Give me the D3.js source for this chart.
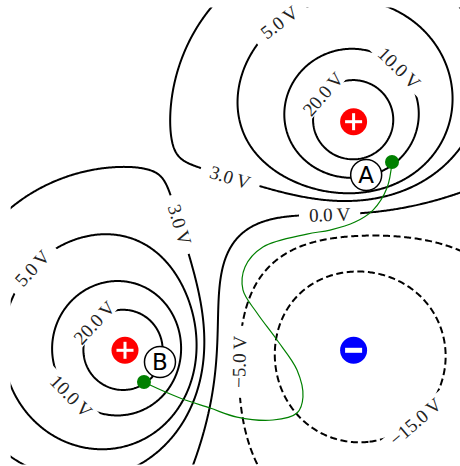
<!DOCTYPE html>
<html>
<head>
<meta charset="utf-8">
<script src="https://cdn.jsdelivr.net/npm/d3@7"></script>
<style>
body { margin: 0; background: #fff; }
svg { display: block; }
</style>
</head>
<body>
<div id="chart"></div>
<script>
const width = 460;
const height = 466;

// point charges (nC) at positions in metres
const chargeX = [1, -1, 1];
const chargeY = [1, -1, -1];
const chargeQ = [1, 1, -2];
const kC = 8.99; // V·m / nC

const levels = [-15, -5, 0, 3, 5, 10, 20];

// where each contour label sits (roughly), picked off the figure
const labelLevels = [20, 10, 5, 3, 0, 3, 5, 20, 10, -5, -15];
const labelX = [0.715, 1.415, 0.347, -0.073, 0.794, -0.501, -1.831, -1.289, -1.464, -0.011, 1.528];
const labelY = [1.260, 1.487, 1.881, 0.542, 0.210, 0.105, -0.262, -0.735, -1.391, -1.102, -1.610];

// green path from A to B
const pathX = [1.336, 1.292, 1.170, 1.012, 0.794, 0.592, 0.207, 0.050, 0.032, 0.155, 0.330, 0.505, 0.557, 0.505, 0.295, -0.020, -0.256, -0.519, -0.781, -0.834];
const pathY = [0.647, 0.420, 0.227, 0.122, 0.052, 0.017, -0.096, -0.271, -0.472, -0.674, -0.910, -1.172, -1.409, -1.549, -1.610, -1.584, -1.505, -1.417, -1.304, -1.277];

const pointNames = ["A", "B"];
const pointX = [1.336, -0.834];
const pointY = [0.647, -1.277];
const tagX = [1.110, -0.694];
const tagY = [0.534, -1.102];

const x = d3.scaleLinear().domain([-2, 2]).range([10.7, 467.9]);
const y = d3.scaleLinear().domain([-2, 2]).range([464.6, 7.4]);

function potential(px, py) {
    let v = 0;
    for (let i = 0; i < chargeQ.length; i++) {
        const r = Math.max(1e-3, Math.hypot(px - chargeX[i], py - chargeY[i]));
        v += kC * chargeQ[i] / r;
    }
    return v;
}

// sample grid a bit larger than the view so the grid border is clipped away
const g0 = -2.3, step = 0.01, n = 461;
const values = new Float64Array(n * n);
for (let j = 0; j < n; j++) {
    for (let i = 0; i < n; i++) {
        values[j * n + i] = potential(g0 + i * step, -g0 - j * step);
    }
}

const gridToPx = (c) => [x(g0 + (c[0] - 0.5) * step), y(-g0 - (c[1] - 0.5) * step)];

const contours = d3.contours().size([n, n]).thresholds(levels)(values);

const path = d3.geoPath(d3.geoTransform({
    point: function(px, py) {
        const p = gridToPx([px, py]);
        this.stream.point(p[0], p[1]);
    }
}));

const svg = d3.select("#chart").append("svg")
    .attr("width", width)
    .attr("height", height);

const defs = svg.append("defs");
defs.append("clipPath").attr("id", "plot-clip")
    .append("rect")
    .attr("x", x(-2)).attr("y", y(2))
    .attr("width", x(2) - x(-2)).attr("height", y(-2) - y(2));

const mask = defs.append("mask").attr("id", "label-gaps")
    .attr("maskUnits", "userSpaceOnUse")
    .attr("x", 0).attr("y", 0).attr("width", width).attr("height", height);
mask.append("rect").attr("width", width).attr("height", height).attr("fill", "white");

const lines = svg.append("g")
    .attr("clip-path", "url(#plot-clip)")
    .append("g")
    .attr("mask", "url(#label-gaps)");

lines.selectAll("path")
    .data(contours)
    .enter()
    .append("path")
    .attr("d", path)
    .attr("fill", "none")
    .attr("stroke", "black")
    .attr("stroke-width", 2)
    .attr("stroke-dasharray", d => d.value < 0 ? "7,3.6" : null);

// place labels on the nearest contour point, rotated along the line
const fmt = v => (v < 0 ? "\u2212" : "") + Math.abs(v).toFixed(1) + "\u2009V";
const labelLayer = svg.append("g");

labelLevels.forEach((lev, k) => {
    const c = contours.find(d => d.value === lev);
    const ax = x(labelX[k]), ay = y(labelY[k]);
    let best = null;
    c.coordinates.forEach(poly => poly.forEach(ring => {
        const pts = ring.map(gridToPx);
        pts.forEach((p, i) => {
            const dd = (p[0] - ax) ** 2 + (p[1] - ay) ** 2;
            if (!best || dd < best.dd) best = { dd, pts, i };
        });
    }));
    const m = best.pts.length - 1;
    const p = best.pts[best.i];
    const a = best.pts[(best.i - 4 + m) % m];
    const b = best.pts[(best.i + 4) % m];
    let ang = Math.atan2(b[1] - a[1], b[0] - a[0]) * 180 / Math.PI;
    if (ang > 90) ang -= 180;
    if (ang < -90) ang += 180;

    const t = labelLayer.append("text")
        .attr("transform", `translate(${p[0]},${p[1]}) rotate(${ang})`)
        .attr("text-anchor", "middle")
        .attr("dy", "0.35em")
        .attr("font-family", "Liberation Serif, serif")
        .attr("font-size", 19)
        .attr("fill", "#222")
        .text(fmt(lev));
    const w = t.node().getComputedTextLength() + 20;
    mask.append("rect")
        .attr("transform", `translate(${p[0]},${p[1]}) rotate(${ang})`)
        .attr("x", -w / 2).attr("y", -8)
        .attr("width", w).attr("height", 16)
        .attr("fill", "black");
});

// path A -> B
const line = d3.line()
    .x(i => x(pathX[i]))
    .y(i => y(pathY[i]))
    .curve(d3.curveCatmullRom);

svg.append("path")
    .attr("d", line(d3.range(pathX.length)))
    .attr("fill", "none")
    .attr("stroke", "green")
    .attr("stroke-width", 1.2);

svg.selectAll(".dot")
    .data(pointNames)
    .enter()
    .append("circle")
    .attr("class", "dot")
    .attr("cx", (d, i) => x(pointX[i]))
    .attr("cy", (d, i) => y(pointY[i]))
    .attr("r", 7)
    .attr("fill", "green");

const tags = svg.selectAll(".tag")
    .data(pointNames)
    .enter()
    .append("g")
    .attr("class", "tag")
    .attr("transform", (d, i) => `translate(${x(tagX[i])},${y(tagY[i])})`);

tags.append("circle")
    .attr("r", 15.5)
    .attr("fill", "white")
    .attr("stroke", "black")
    .attr("stroke-width", 1.5);

tags.append("text")
    .attr("text-anchor", "middle")
    .attr("dy", "0.36em")
    .attr("font-family", "DejaVu Sans, sans-serif")
    .attr("font-size", 23)
    .text(d => d);

// charges
const charges = svg.selectAll(".charge")
    .data(chargeQ)
    .enter()
    .append("g")
    .attr("class", "charge")
    .attr("transform", (d, i) => `translate(${x(chargeX[i])},${y(chargeY[i])})`);

charges.append("circle")
    .attr("r", 13.5)
    .attr("fill", d => d > 0 ? "red" : "blue");

charges.append("rect")
    .attr("x", -8.5).attr("y", d => d > 0 ? -1.5 : -2.5)
    .attr("width", 17).attr("height", d => d > 0 ? 3 : 5)
    .attr("fill", "white");

charges.filter(d => d > 0).append("rect")
    .attr("x", -1.5).attr("y", -8.5)
    .attr("width", 3).attr("height", 17)
    .attr("fill", "white");
</script>
</body>
</html>
